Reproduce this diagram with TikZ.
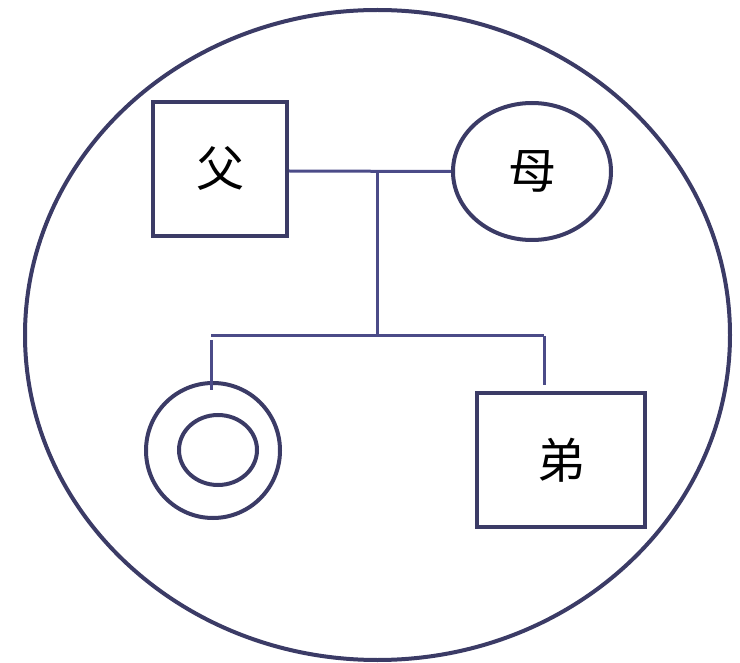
\documentclass[tikz,border=0pt]{standalone}
\usepackage{fontspec}
\newfontfamily\cjk{Noto Sans CJK SC}
\usetikzlibrary{shapes.geometric}
\definecolor{outl}{HTML}{3B3B66}
\definecolor{conn}{HTML}{4B4B88}
\begin{document}
\begin{tikzpicture}[x=0.75pt,y=-0.75pt,
  shapeline/.style={draw=outl,line width=3pt,inner sep=0pt},
  sq/.style={shapeline,rectangle,font=\cjk\fontsize{36}{40}\selectfont},
  ov/.style={shapeline,ellipse,font=\cjk\fontsize{36}{40}\selectfont},
  link/.style={draw=conn,line width=2.25pt}]
\useasboundingbox (0,0) rectangle (740,663);
\node[ov,minimum width=528.75pt,minimum height=487.5pt] (whole) at (377.5,335) {};
\node[sq,minimum width=100.5pt,minimum height=100.5pt] (father) at (220,169) {父};
\node[ov,minimum width=118.5pt,minimum height=102.75pt] (mother) at (532,171.5) {母};
\node[ov,minimum width=100.5pt,minimum height=101.25pt] (self) at (213,450.5) {};
\node[ov,minimum width=58.5pt,minimum height=52.5pt] (selfin) at (218,450) {};
\node[sq,minimum width=126pt,minimum height=100.5pt] (brother) at (561,460) {弟};
\coordinate (junc) at (377,171);
\coordinate (mid) at (377,336);
\coordinate (lft) at (211,336);
\coordinate (rgt) at (544,336);
\coordinate (lftdrop) at (211,340);
\coordinate (lftend) at (211,390);
\coordinate (rgtend) at (544,385);
\draw[link] (father.east |- junc) -- (mother.west);
\draw[link] (junc) -- (mid);
\draw[link] (lft) -- (rgt);
\draw[link] (lftdrop) -- (lftend);
\draw[link] (rgt) -- (rgtend);
\end{tikzpicture}
\end{document}
